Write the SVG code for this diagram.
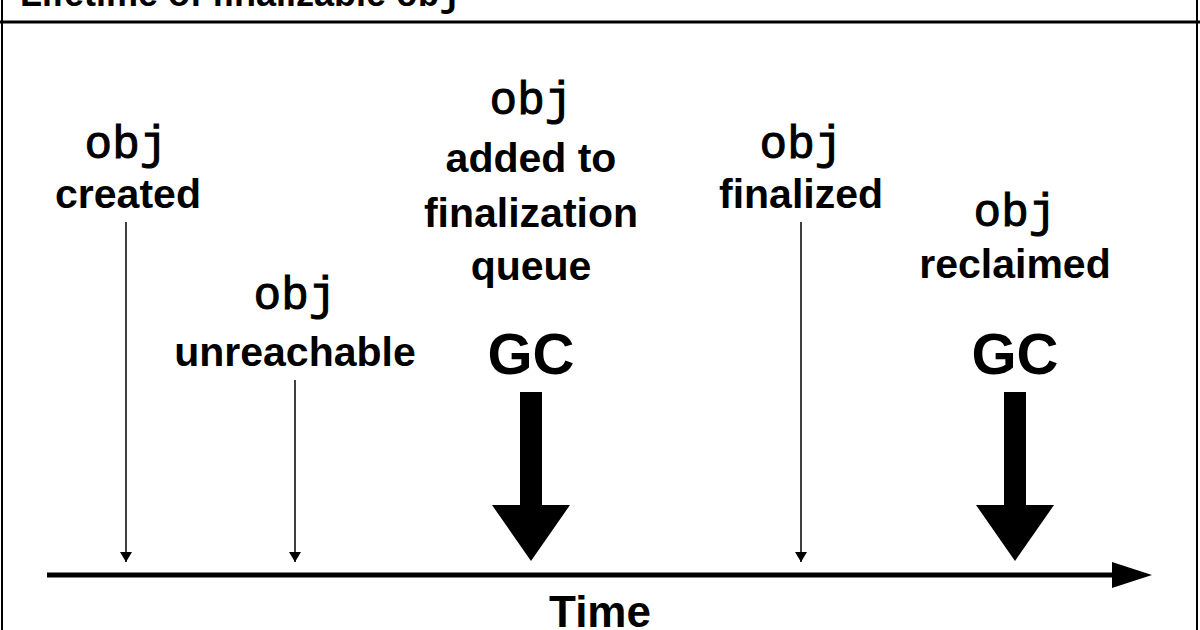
<svg xmlns="http://www.w3.org/2000/svg" width="1200" height="630" viewBox="0 0 1200 630">
<style>
.l{font-family:"Liberation Sans",Arial,sans-serif;font-weight:bold;font-size:41px;text-anchor:middle;fill:#000}
.m{font-family:"Liberation Mono","Courier New",monospace;font-size:46px;text-anchor:middle;fill:#000;stroke:#000;stroke-width:1}
.g{font-family:"Liberation Sans",Arial,sans-serif;font-weight:bold;font-size:58px;text-anchor:middle}
.thin{stroke:#000;stroke-width:1.5;fill:none}
</style>
<defs>
<marker id="a" markerWidth="10" markerHeight="12" refX="10" refY="6" orient="auto" markerUnits="userSpaceOnUse"><path d="M0,0L10,6L0,12z"/></marker>
</defs>
<rect x="0" y="0" width="1200" height="630" fill="#fff"/>
<g id="frame">
<line x1="2" y1="0" x2="2" y2="630" stroke="#000" stroke-width="2"/>
<line x1="1197" y1="0" x2="1197" y2="630" stroke="#000" stroke-width="2"/>
<line x1="0" y1="22" x2="1200" y2="22" stroke="#000" stroke-width="3"/>
<text x="20" y="6" style="font-family:'Liberation Sans',Arial,sans-serif;font-weight:bold;font-size:36px">Lifetime of finalizable <tspan style="font-family:'Liberation Mono',monospace">obj</tspan></text>
</g>
<g id="connectors">
<line class="thin" x1="126" y1="222" x2="126" y2="562" marker-end="url(#a)"/>
<line class="thin" x1="295" y1="380" x2="295" y2="562" marker-end="url(#a)"/>
<line class="thin" x1="801" y1="222" x2="801" y2="562" marker-end="url(#a)"/>
<path d="M520,392h22v113h28l-39,56l-39,-56h28z"/>
<path d="M1004,392h22v113h28l-39,56l-39,-56h28z"/>
<line x1="47" y1="575" x2="1118" y2="575" stroke="#000" stroke-width="5"/>
<path d="M1112,562L1152,575L1112,588z"/>
</g>
<g id="n1"><text class="m" x="126" y="158">obj</text><text class="l" x="128" y="208">created</text></g>
<g id="n2"><text class="m" x="295" y="309">obj</text><text class="l" x="295" y="366">unreachable</text></g>
<g id="n3"><text class="m" x="531" y="114">obj</text><text class="l" x="531" y="172">added to</text><text class="l" x="531" y="227">finalization</text><text class="l" x="531" y="280">queue</text><text class="g" x="531" y="374">GC</text></g>
<g id="n4"><text class="m" x="801" y="158">obj</text><text class="l" x="801" y="208">finalized</text></g>
<g id="n5"><text class="m" x="1015" y="226">obj</text><text class="l" x="1015" y="278">reclaimed</text><text class="g" x="1015" y="374">GC</text></g>
<g id="axis"><text class="l" x="600" y="627" style="font-size:44px">Time</text></g>
</svg>
